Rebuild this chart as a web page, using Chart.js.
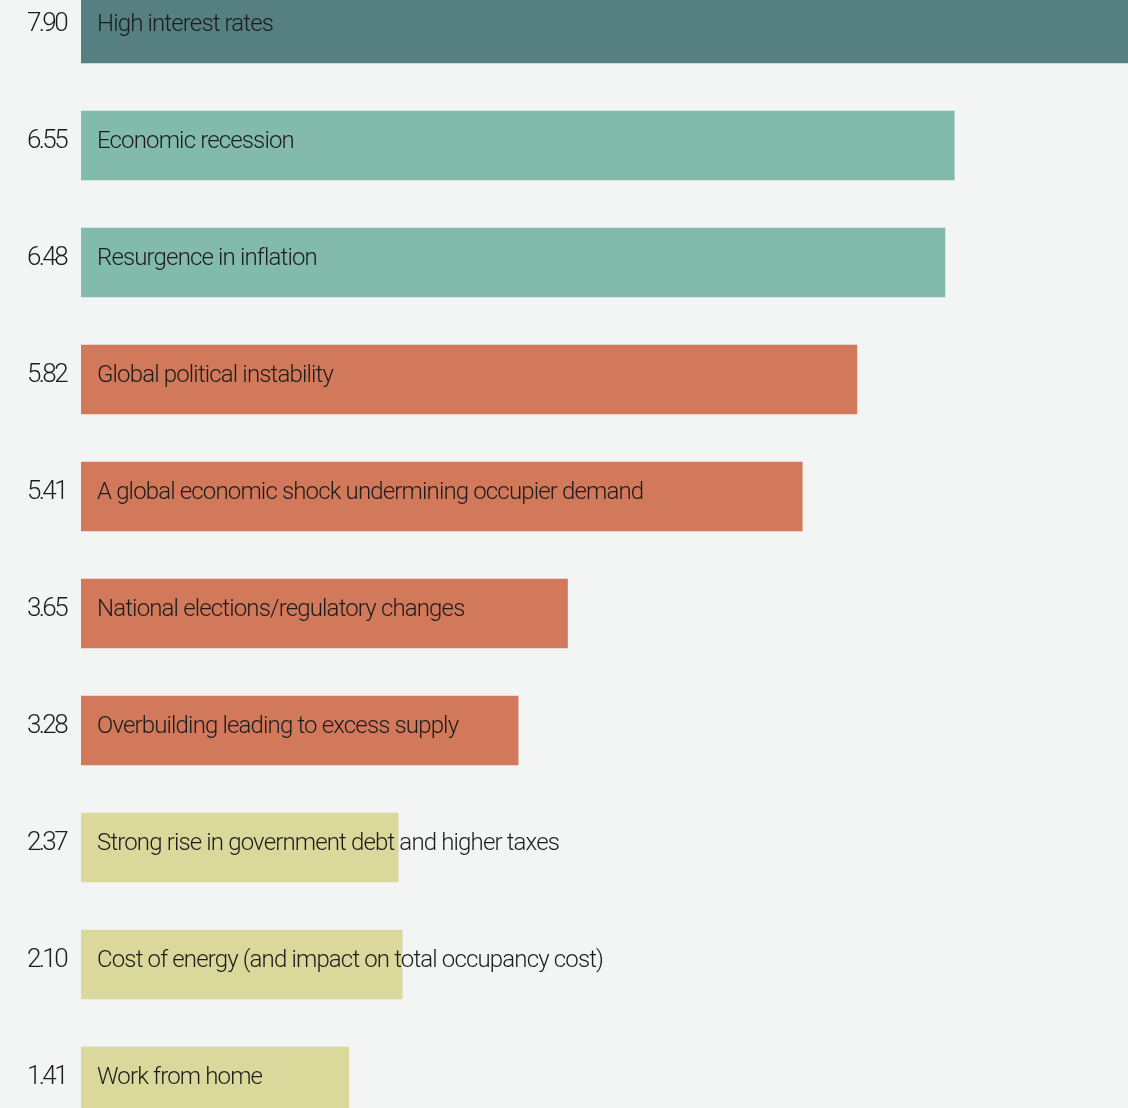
<!DOCTYPE html>
<html>
<head>
<meta charset="utf-8">
<script src="https://cdn.jsdelivr.net/npm/chart.js@4"></script>
<style>
    html, body {
        margin: 0;
        padding: 0;
        background: #f3f5f4;
        overflow: hidden;
        width: 1128px;
        height: 1108px;
    }
    #wrap {
        position: absolute;
        left: 0;
        top: -30px;
        width: 1128px;
        height: 1170px;
    }
</style>
</head>
<body>
<div id="wrap"><canvas id="risks"></canvas></div>
<script>
// risk factors, in the order shown
const risks = [
    'High interest rates',
    'Economic recession',
    'Resurgence in inflation',
    'Global political instability',
    'A global economic shock undermining occupier demand',
    'National elections/regulatory changes',
    'Overbuilding leading to excess supply',
    'Strong rise in government debt and higher taxes',
    'Cost of energy (and impact on total occupancy cost)',
    'Work from home'
];
// score printed left of each bar
const scores = ['7.90', '6.55', '6.48', '5.82', '5.41', '3.65', '3.28', '2.37', '2.10', '1.41'];
// bar length as drawn in the picture (bottom two are drawn longer than their score)
const barLengths = [7.90, 6.55, 6.48, 5.82, 5.41, 3.65, 3.28, 2.38, 2.41, 2.01];
const barColors = [
    '#557f80',
    '#82bbac', '#82bbac',
    '#d2795b', '#d2795b', '#d2795b', '#d2795b',
    '#dad89a', '#dad89a', '#dad89a'
];

const textColor = '#1c1c1c';

// draws the score on the left and the risk name inside the bar
const labelPlugin = {
    id: 'riskLabels',
    afterDatasetsDraw(chart) {
        const ctx = chart.ctx;
        const left = chart.chartArea.left;
        ctx.save();
        ctx.fillStyle = textColor;
        ctx.textBaseline = 'middle';
        chart.getDatasetMeta(0).data.forEach((bar, i) => {
            const y = bar.y - 4;
            ctx.font = '300 26px Roboto';
            ctx.letterSpacing = '-2.6px';
            ctx.textAlign = 'right';
            ctx.fillText(scores[i], left - 15, y);
            ctx.font = '300 24px Roboto';
            ctx.letterSpacing = '-0.85px';
            ctx.textAlign = 'left';
            ctx.fillText(risks[i], left + 16, y);
        });
        ctx.restore();
    }
};

new Chart(document.querySelector('#risks'), {
    type: 'bar',
    data: {
        labels: risks,
        datasets: [{
            data: barLengths,
            backgroundColor: barColors,
            borderWidth: 0,
            barPercentage: 0.595,
            categoryPercentage: 1.0
        }]
    },
    options: {
        indexAxis: 'y',
        responsive: true,
        maintainAspectRatio: false,
        animation: false,
        layout: {padding: {left: 81, right: 0, top: 0, bottom: 0}},
        plugins: {
            legend: {display: false},
            tooltip: {enabled: false}
        },
        scales: {
            x: {display: false, min: 0, max: 7.85},
            y: {display: false}
        }
    },
    plugins: [labelPlugin]
});
</script>
</body>
</html>
